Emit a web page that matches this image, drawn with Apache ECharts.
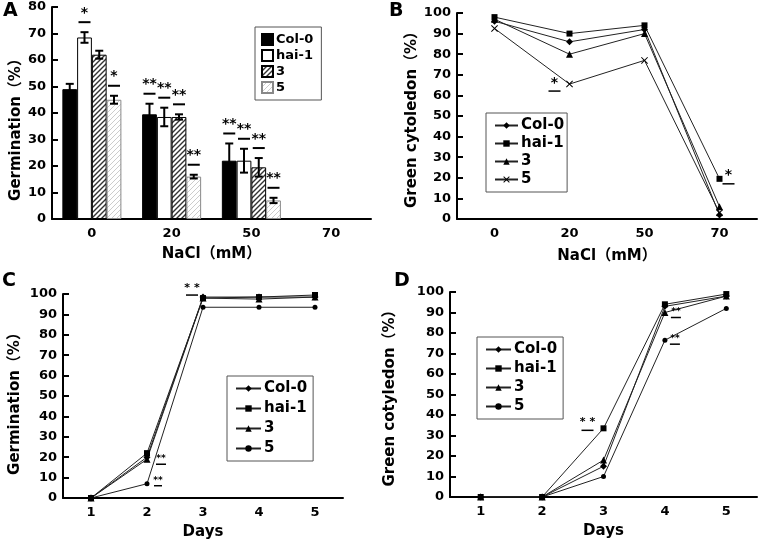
<!DOCTYPE html>
<html>
<head>
<meta charset="utf-8">
<script src="https://cdn.jsdelivr.net/npm/echarts@6/dist/echarts.min.js"></script>
<style>
  html, body { margin: 0; padding: 0; background: #fff; }
  #chart-container { width: 761px; height: 542px; }
</style>
</head>
<body>
<div id="chart-container"></div>
<script>
var salt = ['0', '20', '50', '70'];
var days = ['1', '2', '3', '4', '5'];
var lines = ['Col-0', 'hai-1', '3', '5'];

// A: germination (%) on NaCl, means + error
var aCol0 = [49, 39.5, 22, null];
var aHai1 = [68.5, 38.5, 22, null];
var a3 = [62, 38.5, 19.5, null];
var a5 = [45, 16, 7, null];
var aErrCol0 = [2, 4, 6.5, null];
var aErrHai1 = [2, 3.5, 4.5, null];
var aErr3 = [1.5, 1, 3.5, null];
var aErr5 = [1.5, 0.7, 1, null];
var aSigCol0 = ['', '**', '**', ''];
var aSigHai1 = ['*', '**', '**', ''];
var aSig3 = ['', '**', '**', ''];
var aSig5 = ['*', '**', '**', ''];

// B: green cotyledon (%) on NaCl
var bCol0 = [96, 86, 92, 2];
var bHai1 = [98, 90, 94, 19.5];
var b3 = [97, 80, 90, 6];
var b5 = [92.5, 65.5, 77, 3];

// C: germination (%) by day
var cCol0 = [0, 20, 98.5, 98.5, 98.5];
var cHai1 = [0, 22, 98, 98.5, 99.5];
var c3 = [0, 19, 98, 97.5, 98.5];
var c5 = [0, 7, 93.5, 93.5, 93.5];

// D: green cotyledon (%) by day
var dCol0 = [0, 0, 15, 93, 98];
var dHai1 = [0, 0, 33.5, 94, 99];
var d3 = [0, 0, 18, 90, 98];
var d5 = [0, 0, 10, 76.5, 92];

// significance marks: [category index, line index, mark]
var bSig = [[1, 3, '*'], [3, 1, '*']];
var cSig = [[1, 2, '**'], [1, 3, '**'], [2, 0, '* *']];
var dSig = [[2, 1, '* *'], [3, 2, '**'], [3, 3, '**']];
// pixel placement of each mark: [dx, text dy, line dy, half line width, font size]
var bSigPos = [[-15, -1, 7, 6, 14], [9, -3, 5, 6, 14]];
var cSigPos = [[14, -1, 5, 5, 9], [11, -3, 2, 4, 9], [-11, -9, -2, 6, 11]];
var dSigPos = [[-16, -6, 2, 6, 11], [11, -1, 5, 5, 9], [10, -2, 4, 5, 9]];

var FONT = 'DejaVu Sans, Noto Sans CJK SC, sans-serif';

var dom = document.getElementById('chart-container');
var myChart = echarts.init(dom, null, { renderer: 'canvas' });

function hatch(bg, fg, lw) {
  var c = document.createElement('canvas');
  c.width = 5; c.height = 5;
  var ctx = c.getContext('2d');
  ctx.fillStyle = bg;
  ctx.fillRect(0, 0, 5, 5);
  ctx.strokeStyle = fg;
  ctx.lineWidth = lw;
  ctx.beginPath();
  ctx.moveTo(0, 5); ctx.lineTo(5, 0);
  ctx.moveTo(-2.5, 2.5); ctx.lineTo(2.5, -2.5);
  ctx.moveTo(2.5, 7.5); ctx.lineTo(7.5, 2.5);
  ctx.stroke();
  return c;
}

// error bars for panel A
var aVals = [aCol0, aHai1, a3, a5];
var aErrs = [aErrCol0, aErrHai1, aErr3, aErr5];
var aSigs = [aSigCol0, aSigHai1, aSig3, aSig5];
var errData = [];
var errSig = [];
for (var s = 0; s < 4; s++) {
  for (var c = 0; c < salt.length; c++) {
    if (aVals[s][c] == null) continue;
    errData.push([c, aVals[s][c], aErrs[s][c], s]);
    errSig.push(aSigs[s][c]);
  }
}
var CAT_GAP = 0.26;

function renderErr(params, api) {
  var d = errData[params.dataIndex];
  var catW = api.size([1, 0])[0];
  var barW = catW * (1 - CAT_GAP) / 4;
  var x = api.coord([d[0], 0])[0] + (d[3] - 1.5) * barW;
  var yTop = api.coord([d[0], d[1] + d[2]])[1];
  var yBot = api.coord([d[0], d[1] - d[2]])[1];
  var st = { stroke: '#000', lineWidth: 2 };
  var kids = [
    { type: 'line', shape: { x1: x, y1: yTop, x2: x, y2: yBot }, style: st },
    { type: 'line', shape: { x1: x - 4, y1: yTop, x2: x + 4, y2: yTop }, style: st },
    { type: 'line', shape: { x1: x - 4, y1: yBot, x2: x + 4, y2: yBot }, style: st }
  ];
  var sig = errSig[params.dataIndex];
  if (sig) {
    kids.push({ type: 'line', shape: { x1: x - 6, y1: yTop - 10, x2: x + 6, y2: yTop - 10 }, style: st });
    kids.push({ type: 'text', style: { text: sig, x: x, y: yTop - 19, align: 'center', verticalAlign: 'middle',
      font: 'bold 14px ' + FONT, fill: '#000' } });
  }
  return { type: 'group', children: kids };
}

function sigSeries(gi, marks, pos, vals) {
  var data = marks.map(function (m) { return [m[0], vals[m[1]][m[0]]]; });
  return {
    type: 'custom', xAxisIndex: gi, yAxisIndex: gi, z: 5, silent: true,
    data: data,
    renderItem: function (params, api) {
      var p = api.coord([data[params.dataIndex][0], data[params.dataIndex][1]]);
      var o = pos[params.dataIndex];
      var x = p[0] + o[0];
      return { type: 'group', children: [
        { type: 'text', style: { text: marks[params.dataIndex][2], x: x, y: p[1] + o[1], align: 'center',
          verticalAlign: 'middle', font: 'bold ' + o[4] + 'px ' + FONT, fill: '#000' } },
        { type: 'line', shape: { x1: x - o[3], y1: p[1] + o[2], x2: x + o[3], y2: p[1] + o[2] },
          style: { stroke: '#000', lineWidth: 1.5 } }
      ] };
    }
  };
}

function lineSeries(tag, idx, data, symbol, size, gi) {
  return {
    name: tag + ':' + lines[idx], type: 'line', xAxisIndex: gi, yAxisIndex: gi,
    data: data, symbol: symbol, symbolSize: size,
    lineStyle: { color: '#222', width: 1 },
    itemStyle: { color: '#000' }
  };
}

function barSeries(idx, data, color, border) {
  return {
    name: 'A:' + lines[idx], type: 'bar', xAxisIndex: 0, yAxisIndex: 0,
    data: data, barGap: 0, barCategoryGap: (CAT_GAP * 100) + '%',
    itemStyle: { color: color, borderColor: border, borderWidth: 1 }
  };
}

var crossSym = 'path://M0,1L1,0L5,4L9,0L10,1L6,5L10,9L9,10L5,6L1,10L0,9L4,5Z';

function xAxis(gi, cats, name, gap) {
  return {
    type: 'category', gridIndex: gi, data: cats, boundaryGap: true,
    name: name, nameLocation: 'middle', nameGap: gap,
    nameTextStyle: { color: '#000', fontWeight: 'bold', fontSize: 15, fontFamily: FONT },
    axisLine: { lineStyle: { color: '#000', width: 2 } },
    axisTick: { inside: true, length: 6, lineStyle: { color: '#000', width: 2 } },
    axisLabel: { color: '#000', fontWeight: 'bold', fontSize: 13, fontFamily: FONT, margin: 8 }
  };
}

function yAxis(gi, max, name, gap, pad) {
  return {
    type: 'value', gridIndex: gi, min: 0, max: max, interval: 10,
    name: name, nameLocation: 'middle', nameGap: gap,
    nameTextStyle: { color: '#000', fontWeight: 'bold', fontSize: 15, fontFamily: FONT, padding: pad },
    splitLine: { show: false },
    axisLine: { show: true, lineStyle: { color: '#000', width: 2 } },
    axisTick: { show: true, inside: true, length: 6, lineStyle: { color: '#000', width: 2 } },
    axisLabel: { color: '#000', fontWeight: 'bold', fontSize: 13, fontFamily: FONT, margin: 6 }
  };
}

function legend(tag, left, top, iw, ih, gap, pad, fs, icon) {
  var lg = {
    orient: 'vertical', left: left, top: top,
    data: lines.map(function (n) { return tag + ':' + n; }),
    formatter: function (n) { return n.split(':')[1]; },
    itemWidth: iw, itemHeight: ih, itemGap: gap, padding: pad,
    borderColor: '#555', borderWidth: 1, selectedMode: false,
    textStyle: { color: '#000', fontWeight: 'bold', fontSize: fs, fontFamily: FONT, padding: [0, 0, 0, -2] }
  };
  if (icon) lg.icon = icon;
  return lg;
}

var panelLetter = function (t, x, y) {
  return { type: 'text', left: x, top: y,
    style: { text: t, font: 'bold 19px ' + FONT, fill: '#000' } };
};

var option = {
  animation: false,
  backgroundColor: '#fff',
  grid: [
    { left: 52, top: 7, width: 319, height: 212 },
    { left: 457, top: 13, width: 300, height: 206 },
    { left: 63, top: 294, width: 280, height: 204 },
    { left: 450, top: 292, width: 307, height: 205 }
  ],
  xAxis: [
    xAxis(0, salt, 'NaCl（mM）', 28),
    xAxis(1, salt, 'NaCl（mM）', 30),
    xAxis(2, days, 'Days', 27),
    xAxis(3, days, 'Days', 27)
  ],
  yAxis: [
    yAxis(0, 80, 'Germination（%）', 28, [0, 26, 0, 0]),
    yAxis(1, 100, 'Green cytoledon（%）', 37, [14, 0, 0, 0]),
    yAxis(2, 100, 'Germination（%）', 40, [0, 8, 0, 0]),
    yAxis(3, 100, 'Green cotyledon（%）', 52, [0, 0, 0, 0])
  ],
  legend: [
    legend('A', 255, 27, 11, 11, 3, [6, 8, 6, 6], 13, 'rect'),
    legend('B', 486, 113, 23, 8, 3, [5, 3, 5, 8], 15),
    legend('C', 227, 376, 25, 8, 5, [5, 6, 5, 8], 15),
    legend('D', 477, 337, 25, 8, 4, [5, 6, 5, 8], 15)
  ],
  graphic: [
    panelLetter('A', 3, 2),
    panelLetter('B', 389, 2),
    panelLetter('C', 2, 272),
    panelLetter('D', 394, 272)
  ],
  series: [
    barSeries(0, aCol0, '#000', '#000'),
    barSeries(1, aHai1, '#fff', '#000'),
    barSeries(2, a3, { image: hatch('#fff', '#333', 1.4), repeat: 'repeat' }, '#000'),
    barSeries(3, a5, { image: hatch('#fff', '#ccc', 1), repeat: 'repeat' }, '#888'),
    { type: 'custom', xAxisIndex: 0, yAxisIndex: 0, z: 5, silent: true, data: errData, renderItem: renderErr },

    lineSeries('B', 0, bCol0, 'diamond', 7, 1),
    lineSeries('B', 1, bHai1, 'rect', 6, 1),
    lineSeries('B', 2, b3, 'triangle', 7, 1),
    lineSeries('B', 3, b5, crossSym, 7, 1),
    sigSeries(1, bSig, bSigPos, [bCol0, bHai1, b3, b5]),

    lineSeries('C', 0, cCol0, 'diamond', 7, 2),
    lineSeries('C', 1, cHai1, 'rect', 6, 2),
    lineSeries('C', 2, c3, 'triangle', 7, 2),
    lineSeries('C', 3, c5, 'circle', 5, 2),
    sigSeries(2, cSig, cSigPos, [cCol0, cHai1, c3, c5]),

    lineSeries('D', 0, dCol0, 'diamond', 7, 3),
    lineSeries('D', 1, dHai1, 'rect', 6, 3),
    lineSeries('D', 2, d3, 'triangle', 7, 3),
    lineSeries('D', 3, d5, 'circle', 5, 3),
    sigSeries(3, dSig, dSigPos, [dCol0, dHai1, d3, d5])
  ]
};

myChart.setOption(option);
window.addEventListener('resize', myChart.resize);
</script>
</body>
</html>
